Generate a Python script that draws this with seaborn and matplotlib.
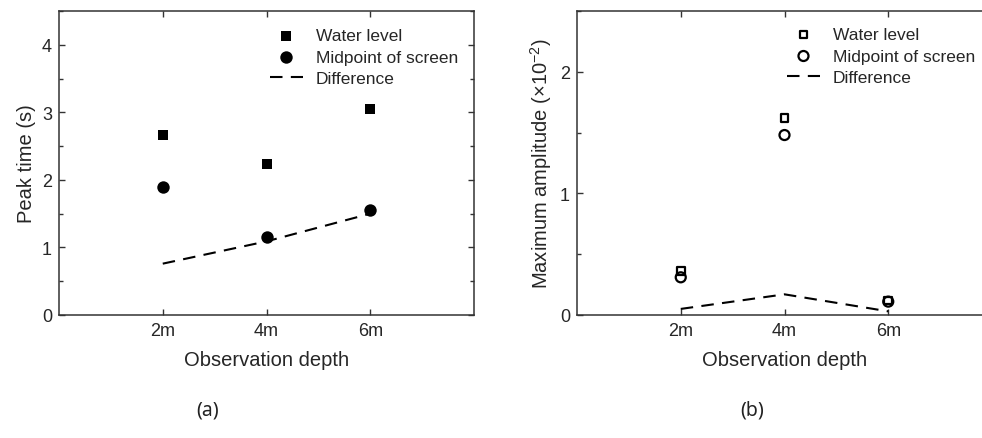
import matplotlib
matplotlib.use("Agg")
import matplotlib.pyplot as plt
from matplotlib.ticker import MultipleLocator, FixedLocator
import numpy as np
import pandas as pd
import seaborn as sns

# Observation depths (m) and their tick labels
depths = [2, 4, 6]
depth_labels = ["2m", "4m", "6m"]

# (a) peak time (s)
peak_water = [2.66, 2.24, 3.05]
peak_mid = [1.90, 1.15, 1.55]
peak_diff = [0.76, 1.09, 1.50]

# (b) maximum amplitude (x10^-2)
amp_water = [0.36, 1.62, 0.12]
amp_mid = [0.31, 1.48, 0.11]
amp_diff = [0.05, 0.17, 0.03]

sns.set_style("white")
plt.rcParams["font.family"] = ["Liberation Sans", "DejaVu Sans"]
plt.rcParams["mathtext.fontset"] = "custom"
plt.rcParams["mathtext.rm"] = "Liberation Sans"
plt.rcParams["mathtext.it"] = "Liberation Sans"

fig = plt.figure(figsize=(9.82, 4.39), dpi=100)
W, H = 982, 439


def px_axes(left, top, right, bottom):
    return fig.add_axes([left / W, 1 - bottom / H, (right - left) / W, (bottom - top) / H])


def style_axes(ax, ymax, ylabel):
    ax.set_xlim(0, 8)
    ax.set_ylim(0, ymax)
    ax.xaxis.set_major_locator(FixedLocator(depths))
    ax.set_xticklabels(depth_labels)
    ax.yaxis.set_major_locator(MultipleLocator(1))
    ax.yaxis.set_minor_locator(MultipleLocator(0.5))
    ax.tick_params(axis="both", which="major", direction="in", length=4.5, width=1.0,
                   color="#333333", labelsize=13, top=True, right=True, left=True, bottom=True,
                   pad=5)
    ax.tick_params(axis="y", which="minor", direction="in", length=3, width=1.0,
                   color="#333333", left=True, right=True)
    for s in ax.spines.values():
        s.set_visible(True)
        s.set_color("#333333")
        s.set_linewidth(1.1)
    ax.set_xlabel("Observation depth", fontsize=14.5, labelpad=8)
    ax.set_ylabel(ylabel, fontsize=14.5, labelpad=4)
    ax.grid(False)


def add_legend(ax, x_px, top_px):
    leg = ax.legend(loc="upper left", bbox_to_anchor=(x_px / W, 1 - top_px / H),
                    bbox_transform=fig.transFigure, frameon=False, fontsize=12.5,
                    handlelength=1.9, handletextpad=0.75, labelspacing=0.36,
                    borderaxespad=0, borderpad=0)
    for line in leg.get_lines():
        if line.get_linestyle() not in ("None", "", " "):
            line.set_dashes((6, 4))
    return leg


# ---- (a) Peak time ----
ax1 = px_axes(59, 12, 474, 316)
df_a = pd.DataFrame({"depth": depths, "water": peak_water, "mid": peak_mid, "diff": peak_diff})
sns.scatterplot(data=df_a, x="depth", y="water", marker="s", s=60, color="black",
                edgecolor="black", linewidth=0, ax=ax1, label="Water level")
sns.scatterplot(data=df_a, x="depth", y="mid", marker="o", s=80, color="black",
                edgecolor="black", linewidth=0, ax=ax1, label="Midpoint of screen")
sns.lineplot(data=df_a, x="depth", y="diff", color="black", linewidth=1.5, ax=ax1,
             label="Difference")
ax1.lines[-1].set_dashes((6, 4))
style_axes(ax1, 4.5, "Peak time (s)")
add_legend(ax1, 270, 29)

# ---- (b) Maximum amplitude ----
ax2 = px_axes(577, 12, 992, 316)
df_b = pd.DataFrame({"depth": depths, "water": amp_water, "mid": amp_mid, "diff": amp_diff})
sns.scatterplot(data=df_b, x="depth", y="water", marker="s", s=30, facecolor="none",
                edgecolor="black", linewidth=1.6, ax=ax2, label="Water level")
sns.scatterplot(data=df_b, x="depth", y="mid", marker="o", s=52, facecolor="none",
                edgecolor="black", linewidth=1.6, ax=ax2, label="Midpoint of screen")
sns.lineplot(data=df_b, x="depth", y="diff", color="black", linewidth=1.5, ax=ax2,
             label="Difference")
ax2.lines[-1].set_dashes((6, 4))
style_axes(ax2, 2.5, "Maximum amplitude (×10$^{-2}$)")
add_legend(ax2, 787, 28)

# Panel captions
fig.text(208 / W, 1 - 411 / H, "(a)", ha="center", va="center", fontsize=14,
         family=["Noto Sans", "DejaVu Sans"], color="#222222")
fig.text(752 / W, 1 - 411 / H, "(b)", ha="center", va="center", fontsize=14,
         family=["Noto Sans", "DejaVu Sans"], color="#222222")

fig.savefig("out.png", dpi=100, facecolor="white")
